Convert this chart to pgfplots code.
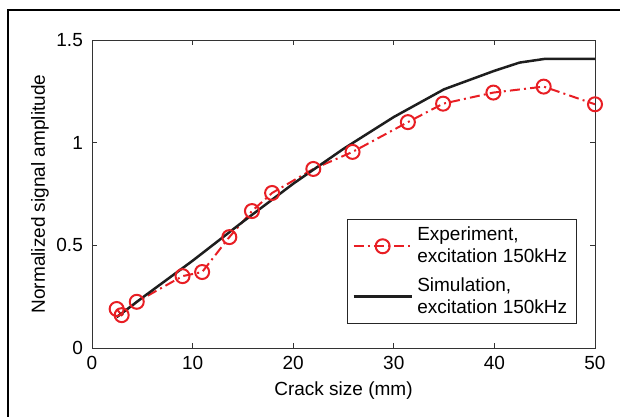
\documentclass[border=0pt]{standalone}
\usepackage{fontspec}
\setmainfont{Liberation Sans}
\usepackage{pgfplots}
\pgfplotsset{compat=1.18}
\definecolor{expred}{RGB}{232,30,36}
\definecolor{simblack}{RGB}{30,30,30}
\begin{document}
\fontsize{11.4}{13.6}\selectfont
\begin{tikzpicture}
\useasboundingbox (0,0) rectangle (372pt,249.6pt);
\draw[line width=1.3pt, black] (4.8pt,-2pt) -- (4.8pt,243.6pt) -- (375pt,243.6pt);
\begin{axis}[
  at={(55.2pt,40.8pt)}, anchor=south west,
  scale only axis, width=301.8pt, height=184.8pt,
  xmin=0, xmax=50, ymin=0, ymax=1.5,
  xtick={0,10,20,30,40,50}, ytick={0,0.5,1,1.5},
  yticklabels={0,0.5,1,1.5},
  tick align=inside, major tick length=3pt,
  axis line style={line width=0.5pt, black!80},
  tick style={line width=0.5pt, black!80},
  /pgf/number format/assume math mode=true,
  ticklabel style={font=\fontsize{11.4}{13.6}\selectfont},
  xticklabel style={yshift=-1pt},
  yticklabel style={xshift=-1.5pt},
  xlabel={Crack size (mm)},
  ylabel={Normalized signal amplitude},
  xlabel style={at={(axis description cs:0.5,-0.138)}, anchor=center},
  ylabel style={at={(axis description cs:-0.1034,0.5)}, anchor=center, rotate=0},
  clip=false,
  legend style={at={(axis description cs:0.964,0.419)}, anchor=north east,
    draw=black!85, line width=0.6pt, font=\fontsize{11.4}{13.2}\selectfont,
    nodes={align=left, inner sep=2.5pt}, row sep=2pt},
  legend cell align=left,
  legend image code/.code={\draw[mark repeat=2,mark phase=2,#1] plot coordinates {(0pt,0pt) (17.5pt,0pt) (35pt,0pt)};},
]
\addplot[color=expred, line width=1.2pt, dash pattern=on 6pt off 2.5pt on 1.2pt off 2.5pt,
  mark=o, mark size=4.2pt, mark options={solid, line width=1.2pt}]
  coordinates {
  (2.45,0.19) (2.95,0.16) (4.45,0.225) (9.0,0.35) (10.95,0.37) (13.65,0.54)
  (15.9,0.667) (17.9,0.755) (22.0,0.872) (25.9,0.955) (31.4,1.10) (34.9,1.19)
  (39.9,1.244) (44.9,1.273) (50.0,1.187)
  };
\addlegendentry{Experiment,\\excitation 150kHz}
\addplot[color=simblack, line width=1.5pt]
  coordinates {
  (2.45,0.15) (5,0.245) (10,0.425) (15,0.615) (20,0.80) (25,0.97) (30,1.125)
  (35,1.26) (40,1.35) (42.5,1.39) (45,1.408) (50,1.408)
  };
\addlegendentry{Simulation,\\excitation 150kHz}
\end{axis}
\end{tikzpicture}
\end{document}
